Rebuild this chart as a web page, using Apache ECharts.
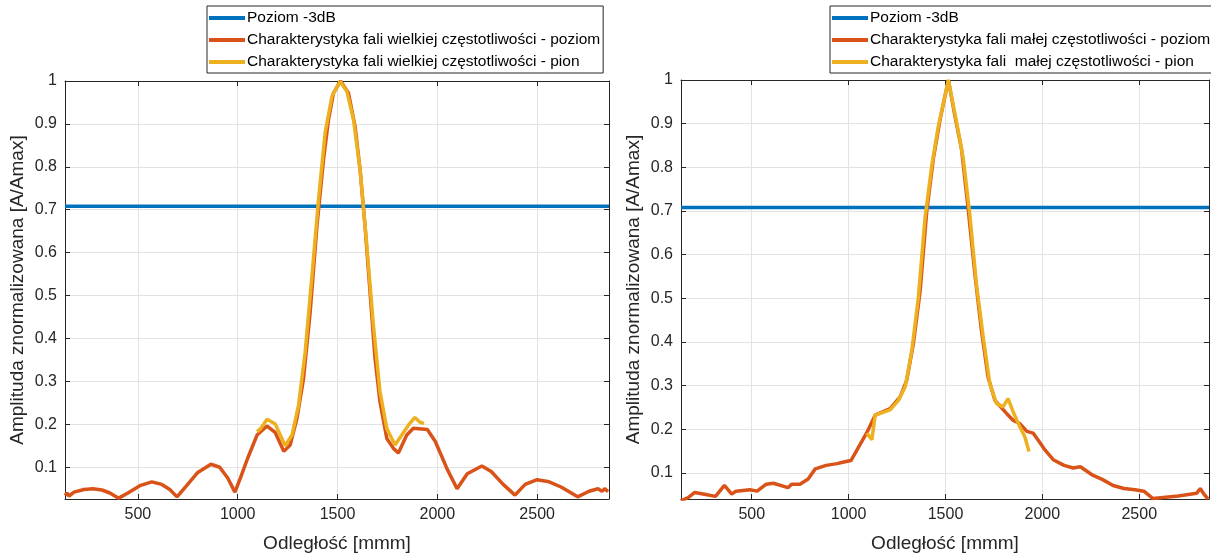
<!DOCTYPE html>
<html>
<head>
<meta charset="utf-8">
<script src="https://cdn.jsdelivr.net/npm/echarts@6/dist/echarts.min.js"></script>
<style>
html,body{margin:0;padding:0;background:#fff;}
#chart{width:1211px;height:558px;}
</style>
</head>
<body>
<div id="chart"></div>
<script>
// ---- data ----
const xTicks = [500, 1000, 1500, 2000, 2500];
const yTicks = [0.1, 0.2, 0.3, 0.4, 0.5, 0.6, 0.7, 0.8, 0.9, 1];
const xRange = [135, 2860];
const yMinLeft = 0.026;
const yMinRight = 0.04;
const level3dB = [[135, 0.7079], [2860, 0.7079]];

const seriesNames = ['Poziom -3dB',
  'Charakterystyka fali wielkiej częstotliwości - poziom',
  'Charakterystyka fali wielkiej częstotliwości - pion',
  'Charakterystyka fali małej częstotliwości - poziom',
  'Charakterystyka fali  małej częstotliwości - pion'];

const highH = [[136,0.034],[145,0.040],[155,0.033],[180,0.042],[230,0.048],[275,0.050],[320,0.047],[360,0.040],[404,0.028],[450,0.040],[510,0.057],[570,0.066],[620,0.060],[660,0.048],[696,0.031],[740,0.055],[800,0.088],[866,0.107],[910,0.100],[950,0.075],[986,0.042],[1013,0.074],[1050,0.121],[1097,0.175],[1147,0.196],[1188,0.181],[1231,0.137],[1263,0.152],[1297,0.214],[1330,0.307],[1363,0.461],[1397,0.662],[1430,0.817],[1455,0.910],[1480,0.972],[1515,1.0],[1555,0.972],[1588,0.894],[1613,0.794],[1638,0.662],[1663,0.508],[1688,0.353],[1713,0.252],[1747,0.167],[1780,0.144],[1805,0.133],[1847,0.175],[1880,0.191],[1950,0.188],[1990,0.160],[2050,0.095],[2099,0.050],[2150,0.085],[2223,0.103],[2270,0.090],[2330,0.060],[2389,0.035],[2440,0.060],[2500,0.071],[2560,0.066],[2620,0.054],[2703,0.031],[2760,0.044],[2805,0.050],[2825,0.044],[2840,0.050],[2855,0.043]];

const highV = [[1097,0.183],[1115,0.190],[1147,0.212],[1188,0.201],[1238,0.150],[1272,0.175],[1305,0.245],[1338,0.368],[1372,0.546],[1405,0.724],[1438,0.879],[1472,0.964],[1513,0.999],[1547,0.976],[1580,0.910],[1613,0.794],[1647,0.616],[1680,0.430],[1713,0.276],[1747,0.190],[1788,0.152],[1822,0.175],[1855,0.198],[1888,0.216],[1913,0.205],[1933,0.202]];

const lowH = [[134,0.036],[172,0.043],[206,0.055],[256,0.051],[313,0.046],[359,0.071],[397,0.051],[419,0.058],[491,0.061],[528,0.058],[575,0.074],[612,0.076],[687,0.066],[706,0.074],[749,0.074],[791,0.086],[828,0.109],[884,0.117],[940,0.121],[987,0.126],[1012,0.128],[1053,0.160],[1094,0.192],[1137,0.232],[1214,0.247],[1266,0.274],[1300,0.312],[1334,0.395],[1369,0.516],[1403,0.698],[1437,0.819],[1472,0.909],[1515,1.0],[1549,0.917],[1583,0.841],[1617,0.705],[1652,0.554],[1686,0.425],[1720,0.319],[1755,0.266],[1815,0.236],[1850,0.220],[1883,0.213],[1920,0.195],[1952,0.191],[1962,0.188],[1986,0.170],[2009,0.155],[2056,0.130],[2112,0.117],[2159,0.111],[2196,0.114],[2262,0.094],[2309,0.085],[2365,0.071],[2421,0.064],[2478,0.061],[2524,0.058],[2571,0.041],[2702,0.047],[2796,0.053],[2815,0.064],[2834,0.051],[2855,0.040]];

const lowV = [[1094,0.191],[1120,0.176],[1137,0.232],[1163,0.236],[1214,0.244],[1257,0.266],[1292,0.297],[1326,0.380],[1360,0.501],[1394,0.682],[1429,0.803],[1463,0.894],[1515,1.0],[1558,0.902],[1592,0.819],[1626,0.690],[1660,0.531],[1695,0.410],[1729,0.304],[1763,0.259],[1797,0.251],[1823,0.270],[1849,0.240],[1883,0.206],[1909,0.183],[1931,0.149]];

const xName = 'Odległość [mmm]';
const yName = 'Amplituda znormalizowana [A/Amax]';

// ---- style ----
const FONT = 'Liberation Sans, Arial, sans-serif';
const AX = '#262626';
const GRIDC = '#e3e3e3';
const C_BLUE = '#0072BD', C_ORANGE = '#D95319', C_YELLOW = '#EDB120';

function xAx(gi, pos, main) {
  return {
    type: 'value', gridIndex: gi, position: pos, min: xRange[0], max: xRange[1],
    name: main ? xName : '', nameLocation: 'middle', nameGap: 35,
    nameTextStyle: {fontFamily: FONT, fontSize: 19, color: AX},
    axisLine: {show: true, onZero: false, lineStyle: {color: AX, width: 1}},
    axisTick: {show: true, inside: true, length: 5, customValues: xTicks, lineStyle: {color: AX}},
    axisLabel: {show: main, customValues: xTicks, fontFamily: FONT, fontSize: 16, color: AX, margin: 8, formatter: v => String(v)},
    splitLine: {show: main, lineStyle: {color: GRIDC, width: 1}}
  };
}
function yAx(gi, pos, main, ymin) {
  return {
    type: 'value', gridIndex: gi, position: pos, min: ymin, max: 1,
    name: main ? yName : '', nameLocation: 'middle', nameGap: 38, nameRotate: 90,
    nameTextStyle: {fontFamily: FONT, fontSize: 19, color: AX},
    axisLine: {show: true, onZero: false, lineStyle: {color: AX, width: 1}},
    axisTick: {show: true, inside: true, length: 5, customValues: yTicks, lineStyle: {color: AX}},
    axisLabel: {show: main, customValues: yTicks, fontFamily: FONT, fontSize: 16, color: AX, margin: 8, formatter: v => String(+v.toFixed(2))},
    splitLine: {show: main, lineStyle: {color: GRIDC, width: 1}}
  };
}
function line(name, data, color, xi, yi) {
  return {type: 'line', name, data, xAxisIndex: xi, yAxisIndex: yi, symbol: 'none', smooth: false,
    clip: true, lineStyle: {color, width: 3.5}, itemStyle: {color}, animation: false};
}
function legend(left, names) {
  return {
    left, top: 6, orient: 'vertical', data: names, icon: 'rect', itemWidth: 36, itemHeight: 4,
    itemGap: 4, padding: [3, 3, 2, 2], borderColor: AX, borderWidth: 1, borderRadius: 0,
    backgroundColor: '#fff', selectedMode: false,
    textStyle: {fontFamily: FONT, fontSize: 15.5, color: '#000', lineHeight: 18, padding: [0,0,0,-3]}
  };
}

const chart = echarts.init(document.getElementById('chart'), null, {renderer: 'canvas'});
chart.setOption({
  backgroundColor: '#fff',
  animation: false,
  grid: [
    {left: 65, top: 81, width: 544, height: 420},
    {left: 681, top: 80, width: 528, height: 423}
  ],
  xAxis: [xAx(0, 'bottom', true), xAx(0, 'top', false), xAx(1, 'bottom', true), xAx(1, 'top', false)],
  yAxis: [yAx(0, 'left', true, yMinLeft), yAx(0, 'right', false, yMinLeft), yAx(1, 'left', true, yMinRight), yAx(1, 'right', false, yMinRight)],
  legend: [legend(207, [seriesNames[0], seriesNames[1], seriesNames[2]]), legend(830, [seriesNames[0], seriesNames[3], seriesNames[4]])],
  series: [
    line(seriesNames[0], level3dB, C_BLUE, 0, 0),
    line(seriesNames[1], highH, C_ORANGE, 0, 0),
    line(seriesNames[2], highV, C_YELLOW, 0, 0),
    line(seriesNames[0], level3dB, C_BLUE, 2, 2),
    line(seriesNames[3], lowH, C_ORANGE, 2, 2),
    line(seriesNames[4], lowV, C_YELLOW, 2, 2)
  ]
});
</script>
</body>
</html>
